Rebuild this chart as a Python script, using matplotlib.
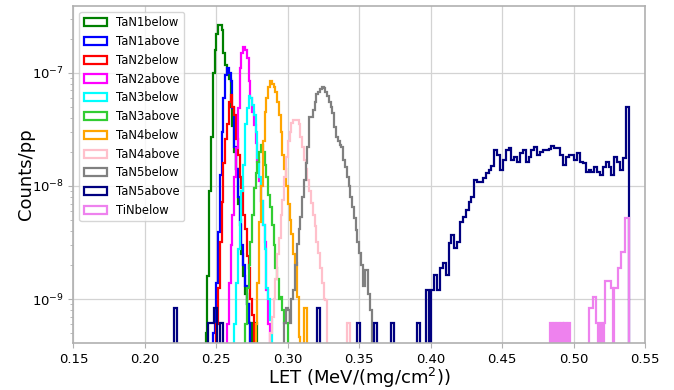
import numpy as np
import matplotlib
matplotlib.use('Agg')
import matplotlib.pyplot as plt

# Per-layer LET spectra, heights in units of 1e-9 counts per primary.
# Each series: first bin edge, bin width, bin heights.
tan1below_start, tan1below_width = 0.2425, 0.00125
tan1below_vals = [0.5, 1.6, 9, 27, 100, 160, 220, 262, 266, 240, 150, 118, 100, 88, 50, 34,
                  20, 14, 7, 4.5, 2.5, 1.6, 1.1, 0.9, 0.62, 0.3, 0.62, 0.3, 0.62]

tan1above_start, tan1above_width = 0.2475, 0.00125
tan1above_vals = [0.5, 0.75, 1.4, 3.9, 12.5, 30, 60, 95, 110, 100, 84, 49, 22, 14, 8, 5,
                  3, 2, 1.3, 0.9, 0.62, 0.3]

tan2below_start, tan2below_width = 0.2500, 0.00125
tan2below_vals = [0.6, 1.25, 3.2, 7.2, 16, 26, 35, 55, 64, 50, 42, 26, 18.8, 12, 9.6, 5.5,
                  4.2, 2.4, 1.9, 1.0, 0.72, 0.3]

tan2above_start, tan2above_width = 0.2575, 0.00125
tan2above_vals = [0.6, 1.4, 3, 5.5, 12, 21.6, 49, 110, 150, 170, 160, 135, 85, 60, 45, 34.6,
                  24, 16.4, 11, 7.3, 4.5, 3.2, 1.2, 0.6]

tan3below_start, tan3below_width = 0.2625, 0.00125
tan3below_vals = [0.6, 1.4, 2.8, 4.8, 9, 15.3, 35, 49, 62, 60, 52, 42, 30, 17.7, 12, 7.3,
                  4.5, 2.8, 1.25, 1.0, 0.65, 0.3]

tan3above_start, tan3above_width = 0.2700, 0.00125
tan3above_vals = [0.6, 1.25, 2.0, 3.2, 5.5, 9.6, 13, 16.4, 20, 23, 20, 15.3, 12, 8.3, 6.5,
                  4.5, 3.0, 1.9, 1.5, 1.0, 1.04, 0.8, 0.62, 0.62, 0.3]

tan4below_start, tan4below_width = 0.2775, 0.00125
tan4below_vals = [0.6, 1.4, 4.8, 10, 25, 45, 60, 75, 84, 80, 75, 68, 55, 42, 30, 18.8,
                  14, 10, 7, 5, 3.8, 2.5, 2.1, 1.05, 0.46, 0.3, 0.3, 0.83, 0.83, 0.3]

tan4above_start, tan4above_width = 0.2875, 0.00125
tan4above_vals = [0.5, 0.7, 1.0, 1.5, 2.5, 3.5, 5.5, 7.5, 12, 18, 25, 30, 36, 38, 38.5, 38,
                  35, 27, 22, 17, 14, 11.3, 9, 7.1, 5.5, 4.4, 3.2, 2.55, 1.9, 1.39, 1.0, 0.98,
                  0.3, 0.2, 0.2, 0.2, 0.2, 0.2, 0.2, 0.2, 0.2, 0.2, 0.2, 0.62, 0.62, 0.2]

tan5below_start, tan5below_width = 0.2975, 0.00125
tan5below_vals = [0.62, 0.83, 0.8, 0.62, 1.0, 1.2, 2.0, 3.1, 4.2, 5.35, 8, 11.3, 16, 22.3,
                  41, 41, 47, 55, 65, 68, 72, 75, 73, 68, 62, 55, 50, 44, 33, 27, 25, 23,
                  22.3, 17, 14.8, 12, 9.9, 8, 6.55, 5.2, 4.1, 3.2, 2.55, 2.0, 1.3, 1.8, 1.8,
                  1.1, 0.8, 0.3]

tan5above_start, tan5above_width = 0.2205, 0.002
tan5above_vals = [
    0.83, 0, 0, 0, 0, 0, 0, 0, 0, 0, 0, 0, 0.62, 0.62, 0.83, 0.3, 0.62, 0, 0, 0,
    0, 0, 0, 0, 0, 0, 0, 0, 0, 0, 0, 0, 0, 0, 0, 0, 0, 0, 0, 0,
    0, 0, 0, 0, 0, 0, 0, 0, 0, 0, 0.83, 0, 0, 0, 0, 0, 0, 0, 0, 0,
    0, 0, 0, 0, 0.62, 0, 0, 0, 0, 0, 0.62, 0, 0, 0, 0, 0, 0.62, 0, 0, 0,
    0, 0, 0, 0, 0, 0.62, 0, 0, 1.2, 0,
    1.20, 1.63, 1.20, 1.87, 2.07, 1.63, 3.11, 3.68, 2.81, 3.21,
    4.83, 5.35, 6.13, 7.27, 8.05, 11.3, 10.9, 10.9, 11.7, 12.9,
    13.8, 15.0, 20.8, 18.8, 13.8, 17.0, 20.8, 21.6, 17.0, 18.2,
    16.4, 19.5, 20.8, 16.4, 18.2, 20.8, 22.3, 18.8, 20.1, 20.8,
    20.8, 21.1, 22.6, 21.6, 21.6, 18.8, 15.3, 18.2, 18.8, 18.8,
    17.0, 19.5, 16.4, 15.8, 13.4, 13.8, 13.4, 14.8, 13.4, 12.5,
    14.8, 16.4, 14.8, 12.5, 18.2, 16.4, 13.8, 17.6, 50.3]

tinbelow_start, tinbelow_width = 0.4835, 0.00125
tinbelow_vals = [0.62, 0, 0.62, 0, 0.62, 0, 0.62, 0, 0.62, 0, 0.62,
                 0, 0, 0, 0, 0, 0, 0, 0, 0, 0, 0,
                 0.83, 0.83, 1.05, 1.05, 0.62, 0, 0.62, 0, 0.62,
                 1.44, 1.44, 1.44, 1.25, 0, 1.25, 1.25, 1.9, 1.9, 2.6, 2.6, 5.2, 5.2]

labels = ['TaN1below', 'TaN1above', 'TaN2below', 'TaN2above', 'TaN3below', 'TaN3above',
          'TaN4below', 'TaN4above', 'TaN5below', 'TaN5above', 'TiNbelow']
colors = ['green', 'blue', 'red', 'magenta', 'cyan', 'limegreen',
          'orange', 'pink', 'gray', 'navy', 'violet']
series = [
    (tan1below_start, tan1below_width, tan1below_vals),
    (tan1above_start, tan1above_width, tan1above_vals),
    (tan2below_start, tan2below_width, tan2below_vals),
    (tan2above_start, tan2above_width, tan2above_vals),
    (tan3below_start, tan3below_width, tan3below_vals),
    (tan3above_start, tan3above_width, tan3above_vals),
    (tan4below_start, tan4below_width, tan4below_vals),
    (tan4above_start, tan4above_width, tan4above_vals),
    (tan5below_start, tan5below_width, tan5below_vals),
    (tan5above_start, tan5above_width, tan5above_vals),
    (tinbelow_start, tinbelow_width, tinbelow_vals),
]

fig, ax = plt.subplots(figsize=(6.74, 3.9), dpi=100)
fig.subplots_adjust(left=0.109, right=0.957, bottom=0.1205, top=0.985)

for (start, width, vals), label, color in zip(series, labels, colors):
    vals = np.array(vals) * 1e-9
    edges = start + width * np.arange(len(vals) + 1)
    centers = 0.5 * (edges[:-1] + edges[1:])
    ax.hist(centers, bins=edges, weights=vals, histtype='step', log=True,
            color=color, linewidth=1.6, label=label)

ax.set_xlim(0.15, 0.55)
ax.set_ylim(4.1e-10, 3.9e-7)
ax.set_xticks(np.arange(0.15, 0.551, 0.05))
ax.set_xticklabels([f'{t:.2f}' for t in np.arange(0.15, 0.551, 0.05)])
ax.grid(True, which='major', color='#d3d3d3', linewidth=0.9)
ax.set_axisbelow(True)
for spine in ax.spines.values():
    spine.set_color('#b0b0b0')
    spine.set_linewidth(1.2)
ax.tick_params(axis='both', which='major', labelsize=9.5, color='#b0b0b0')
ax.tick_params(axis='y', which='minor', color='#b0b0b0')

ax.set_xlabel('LET (MeV/(mg/cm$^2$))', fontsize=13, labelpad=0)
ax.set_ylabel('Counts/pp', fontsize=13, labelpad=-2)
ax.legend(loc='upper left', fontsize=8.3)

fig.savefig('out.png', dpi=100)
